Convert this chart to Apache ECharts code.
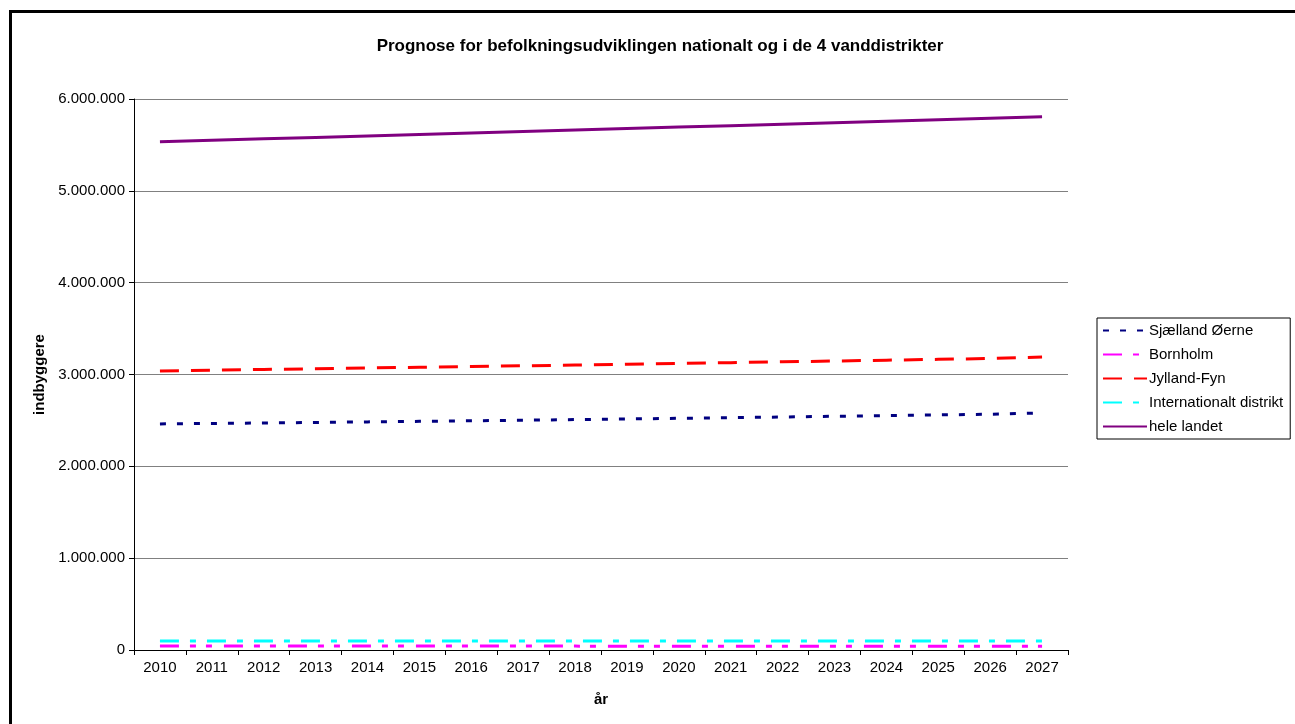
<!DOCTYPE html>
<html>
<head>
<meta charset="utf-8">
<title>Prognose for befolkningsudviklingen</title>
<script src="https://cdn.jsdelivr.net/npm/echarts@6/dist/echarts.min.js"></script>
<style>
  html, body { margin: 0; padding: 0; background: #fff; overflow: hidden; }
  #frame { position: absolute; left: 9px; top: 10px; width: 1400px; height: 800px; border: 3px solid #000; }
  #chart { position: absolute; left: 0; top: 0; width: 1295px; height: 724px; }
</style>
</head>
<body>
<div id="frame"></div>
<div id="chart"></div>
<script>
// år
const years = ['2010', '2011', '2012', '2013', '2014', '2015', '2016', '2017', '2018',
  '2019', '2020', '2021', '2022', '2023', '2024', '2025', '2026', '2027'];

// indbyggere
const sjaelland = [2462000, 2467000, 2472000, 2478000, 2484000, 2490000, 2496000, 2502000, 2509000,
  2516000, 2523000, 2530000, 2537000, 2545000, 2552000, 2560000, 2567000, 2582000];
const bornholm = [43000, 43000, 42800, 42700, 42600, 42500, 42400, 42300, 42200,
  42100, 42000, 41900, 41800, 41700, 41600, 41500, 41400, 41300];
const jyllandFyn = [3039000, 3047000, 3055000, 3063000, 3071000, 3079000, 3087000, 3095000, 3103000,
  3112000, 3121000, 3129000, 3138000, 3147000, 3156000, 3165000, 3174000, 3190000];
const international = [98000, 98000, 98000, 98000, 98000, 98000, 98000, 98000, 98000,
  98000, 98000, 98000, 98000, 98000, 98000, 98000, 98000, 98000];
const heleLandet = [5534000, 5550000, 5566000, 5582000, 5598000, 5614000, 5630000, 5646000, 5662000,
  5678000, 5694000, 5710000, 5726000, 5742000, 5758000, 5774000, 5790000, 5806000];

const yTicks = [0, 1000000, 2000000, 3000000, 4000000, 5000000, 6000000];

function dk(v) {
  return String(v).replace(/\B(?=(\d{3})+(?!\d))/g, '.');
}

const chart = echarts.init(document.getElementById('chart'));

function serie(name, data, color, dash) {
  return {
    name: name,
    type: 'line',
    data: data,
    showSymbol: false,
    symbol: 'none',
    animation: false,
    lineStyle: { color: color, width: 3, type: dash },
    itemStyle: { color: color }
  };
}

chart.setOption({
  animation: false,
  textStyle: { fontFamily: 'Liberation Sans, Arial, sans-serif' },
  title: {
    text: 'Prognose for befolkningsudviklingen nationalt og i de 4 vanddistrikter',
    left: 655,
    textAlign: 'center',
    top: 33,
    textStyle: { fontSize: 17, fontWeight: 'bold', color: '#000' }
  },
  legend: {
    orient: 'vertical',
    left: 1097,
    top: 318,
    width: 195,
    padding: [5, 7, 5, 5],
    borderColor: '#000',
    borderWidth: 1,
    itemWidth: 44,
    itemHeight: 14,
    itemGap: 9,
    itemStyle: { opacity: 0 },
    textStyle: { fontSize: 15, color: '#000', padding: [0, 0, 0, -3] },
    data: ['Sjælland Øerne', 'Bornholm', 'Jylland-Fyn', 'Internationalt distrikt', 'hele landet']
  },
  grid: { left: 134, right: 227, top: 99, bottom: 74, containLabel: false },
  xAxis: {
    type: 'category',
    data: years,
    boundaryGap: true,
    name: 'år',
    nameLocation: 'middle',
    nameGap: 42,
    nameTextStyle: { fontSize: 15, fontWeight: 'bold', color: '#000' },
    axisLine: { lineStyle: { color: '#000', width: 1 } },
    axisTick: { show: true, length: 5, interval: 0, lineStyle: { color: '#000' } },
    axisLabel: { fontSize: 15, color: '#000', margin: 10, interval: 0 },
    splitLine: { show: false }
  },
  yAxis: {
    type: 'value',
    min: yTicks[0],
    max: yTicks[yTicks.length - 1],
    interval: 1000000,
    name: 'indbyggere',
    nameLocation: 'middle',
    nameRotate: 90,
    nameGap: 86,
    nameTextStyle: { fontSize: 15, fontWeight: 'bold', color: '#000' },
    axisLine: { show: true, lineStyle: { color: '#000', width: 1 } },
    axisTick: { show: true, length: 5, lineStyle: { color: '#000' } },
    axisLabel: { fontSize: 15, color: '#000', margin: 9, formatter: dk },
    splitLine: { show: true, lineStyle: { color: '#808080', width: 1 } }
  },
  series: [
    serie('Sjælland Øerne', sjaelland, '#000080', [6, 11]),
    serie('Bornholm', bornholm, '#ff00ff', [19, 11, 6, 10, 6, 12]),
    serie('Jylland-Fyn', jyllandFyn, '#ff0000', [19, 12]),
    serie('Internationalt distrikt', international, '#00ffff', [19, 11, 6, 11]),
    serie('hele landet', heleLandet, '#800080', 'solid')
  ]
});
</script>
</body>
</html>
